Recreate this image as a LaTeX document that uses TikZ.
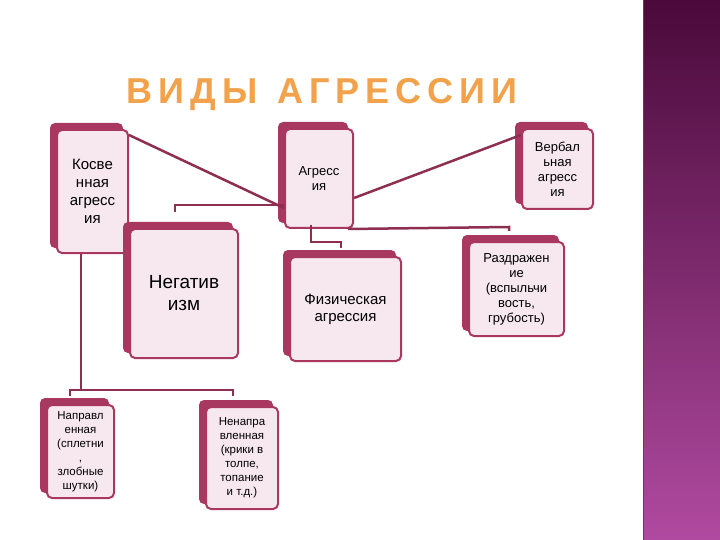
\documentclass[tikz,border=0pt]{standalone}
\usepackage{fontspec}
\setmainfont{Liberation Sans}
\begin{document}
\begin{tikzpicture}[x=1pt,y=-1pt]
\definecolor{rose}{HTML}{A8385F}
\definecolor{pinkin}{HTML}{F6E8EE}
\definecolor{linec}{HTML}{8E2F52}
\definecolor{sidetop}{HTML}{4A0A3A}
\definecolor{sidebot}{HTML}{B04AA0}
\definecolor{titleo}{HTML}{F2A24A}
\tikzset{
 back/.style={fill=rose,rounded corners=5pt},
 front/.style={fill=pinkin,draw=rose,line width=2pt,rounded corners=5pt,align=center,inner sep=0pt,anchor=north west},
 conn/.style={draw=linec,line width=2.5pt}
}
\useasboundingbox (0,0) rectangle (720,540);
\fill[white] (0,0) rectangle (720,540);
\shade[top color=sidetop,bottom color=sidebot] (643,0) rectangle (720,540);
\draw[black!70,line width=1pt] (643,0) -- (643,540);
\node[font=\bfseries\fontsize{36}{36}\selectfont,text=titleo,draw=none] (title) at (322,95) {В\,И\,Д\,Ы\ \ А\,Г\,Р\,Е\,С\,С\,И\,И};
% boxes: back then front
\newcommand\mkbox[7]{%
 \fill[back] (#2,#3) rectangle (#4-4,#5-4);
 \node[front,minimum width=#4-#2-6,minimum height=#5-#3-6,font=#7] (#1) at (#2+6,#3+6) {#6};}
\mkbox{kosv}{50}{123}{127}{252}{Косве\\нная\\агресс\\ия}{\fontsize{15}{18}\selectfont}
\mkbox{agr}{278}{122}{352}{227}{Агресс\\ия}{\fontsize{13}{15}\selectfont}
\mkbox{verb}{515}{122}{592}{208}{Вербал\\ьная\\агресс\\ия}{\fontsize{13}{15}\selectfont}
\mkbox{neg}{123}{222}{237}{357}{Негатив\\изм}{\fontsize{19}{22}\selectfont}
\mkbox{phys}{283}{250}{400}{360}{Физическая\\агрессия}{\fontsize{15}{17}\selectfont}
\mkbox{razd}{462}{235}{563}{335}{Раздражен\\ие\\(вспыльчи\\вость,\\грубость)}{\fontsize{13}{15}\selectfont}
\mkbox{napr}{40}{398}{113}{497}{Направл\\енная\\(сплетни\\,\\злобные\\шутки)}{\fontsize{11.5}{14}\selectfont}
\mkbox{nenapr}{199}{400}{277}{508}{Ненапра\\вленная\\(крики в\\толпе,\\топание\\и т.д.)}{\fontsize{11.5}{14}\selectfont}
% connectors
\draw[conn] (kosv.north east) ++(0,6) -- (agr.west |- 0,208);
\draw[conn] (agr.east |- 0,198) -- (verb.west |- 0,135);
\coordinate (c1) at (175,212);
\draw[conn] (c1) -- (175,205) -- (agr.west |- 0,205);
\draw[conn] (agr.south east) ++(-6,0) -- (509,227) coordinate (c2) -- ++(0,4);
\draw[conn] (311,225) -- (311,242) -- (341,242) -- (341,248) coordinate (c3);
\draw[conn] (kosv.south -| 81,0) -- (81,390);
\draw[conn] (70,396) coordinate (c4) -- (70,390) -- (233,390) -- (233,396) coordinate (c5);
\end{tikzpicture}
\end{document}
